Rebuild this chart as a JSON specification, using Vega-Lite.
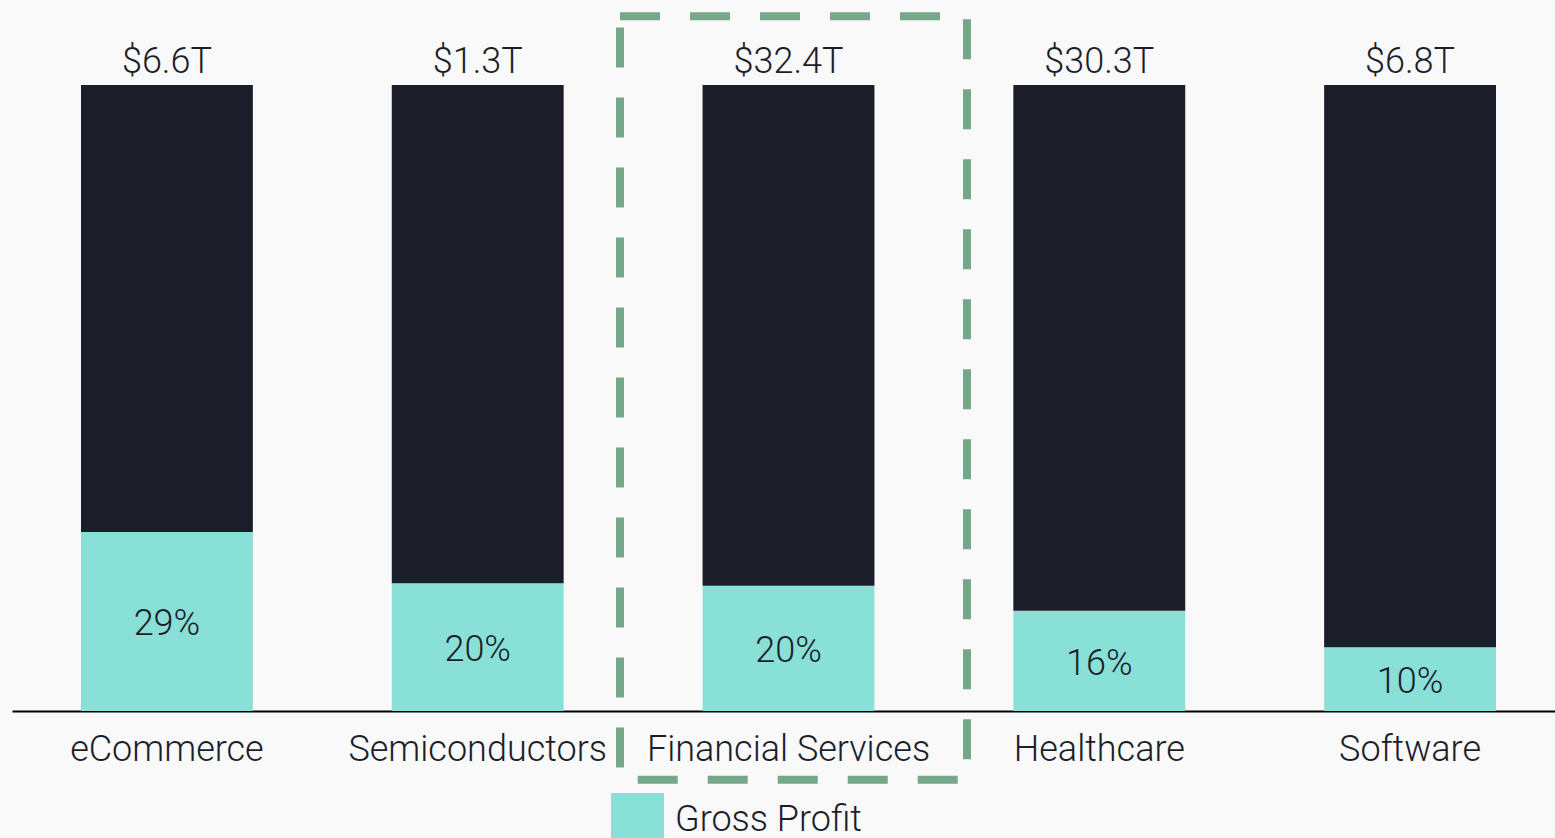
{
  "$schema": "https://vega.github.io/schema/vega-lite/v6.json",
  "autosize": "none",
  "padding": {"left": 12, "top": 85, "right": 0, "bottom": 127},
  "width": 1553,
  "height": 626,
  "background": "#f9f9f9",
  "config": {
    "view": {"stroke": null},
    "font": "Roboto",
    "text": {"font": "Roboto", "fontWeight": 300, "fontSize": 36, "color": "#1b1e2a"}
  },
  "datasets": {
    "segments": [
      {"category": "eCommerce", "segment": "Gross Profit", "share": 0.286, "rank": 1},
      {"category": "eCommerce", "segment": "Other", "share": 0.714, "rank": 2},
      {"category": "Semiconductors", "segment": "Gross Profit", "share": 0.204, "rank": 1},
      {"category": "Semiconductors", "segment": "Other", "share": 0.796, "rank": 2},
      {"category": "Financial Services", "segment": "Gross Profit", "share": 0.2, "rank": 1},
      {"category": "Financial Services", "segment": "Other", "share": 0.8, "rank": 2},
      {"category": "Healthcare", "segment": "Gross Profit", "share": 0.16, "rank": 1},
      {"category": "Healthcare", "segment": "Other", "share": 0.84, "rank": 2},
      {"category": "Software", "segment": "Gross Profit", "share": 0.102, "rank": 1},
      {"category": "Software", "segment": "Other", "share": 0.898, "rank": 2}
    ],
    "totals": [
      {"category": "eCommerce", "total": "$6.6T"},
      {"category": "Semiconductors", "total": "$1.3T"},
      {"category": "Financial Services", "total": "$32.4T"},
      {"category": "Healthcare", "total": "$30.3T"},
      {"category": "Software", "total": "$6.8T"}
    ],
    "highlight": [
      {"category": "Financial Services"}
    ]
  },
  "layer": [
    {
      "data": {"name": "segments"},
      "mark": {"type": "bar"},
      "encoding": {
        "x": {
          "field": "category",
          "type": "nominal",
          "sort": null,
          "scale": {"paddingInner": 0.447, "paddingOuter": 0.222},
          "axis": {
            "title": null,
            "domain": true,
            "domainColor": "#000000",
            "domainWidth": 2,
            "ticks": false,
            "grid": false,
            "labelAngle": 0,
            "labelFont": "Roboto",
            "labelFontWeight": 300,
            "labelFontSize": 36,
            "labelColor": "#1b1e2a",
            "labelPadding": 21,
            "labelLimit": 0,
            "labelOverlap": false
          }
        },
        "y": {
          "field": "share",
          "type": "quantitative",
          "stack": true,
          "scale": {"domain": [0, 1]},
          "axis": null
        },
        "color": {
          "field": "segment",
          "type": "nominal",
          "scale": {"domain": ["Gross Profit", "Other"], "range": ["#89e0d6", "#1b1d29"]},
          "legend": {
            "title": null,
            "values": ["Gross Profit"],
            "orient": "none",
            "legendX": 599,
            "legendY": 708,
            "symbolType": "square",
            "symbolSize": 2809,
            "symbolStrokeWidth": 0,
            "labelFont": "Roboto",
            "labelFontWeight": 300,
            "labelFontSize": 36,
            "labelColor": "#1b1e2a",
            "labelOffset": 11,
            "labelLimit": 0
          }
        },
        "order": {"field": "rank"}
      }
    },
    {
      "data": {"name": "segments"},
      "transform": [{"filter": "datum.segment === 'Gross Profit'"}],
      "mark": {"type": "text", "baseline": "middle", "dy": 3},
      "encoding": {
        "x": {"field": "category", "type": "nominal", "sort": null},
        "y": {"field": "share", "type": "quantitative", "stack": "zero", "bandPosition": 0.5},
        "text": {"field": "share", "type": "quantitative", "format": ".0%"}
      }
    },
    {
      "data": {"name": "totals"},
      "mark": {"type": "text", "baseline": "alphabetic", "dy": -12},
      "encoding": {
        "x": {"field": "category", "type": "nominal", "sort": null},
        "y": {"datum": 1},
        "text": {"field": "total", "type": "nominal"}
      }
    },
    {
      "data": {"name": "highlight"},
      "mark": {"type": "bar", "width": 347, "xOffset": 5, "fill": "transparent", "stroke": "#76a78a", "strokeWidth": 8, "strokeDash": [40, 30]},
      "encoding": {
        "x": {"field": "category", "type": "nominal", "sort": null},
        "y": {"datum": 1.11},
        "y2": {"datum": -0.11}
      }
    }
  ]
}
